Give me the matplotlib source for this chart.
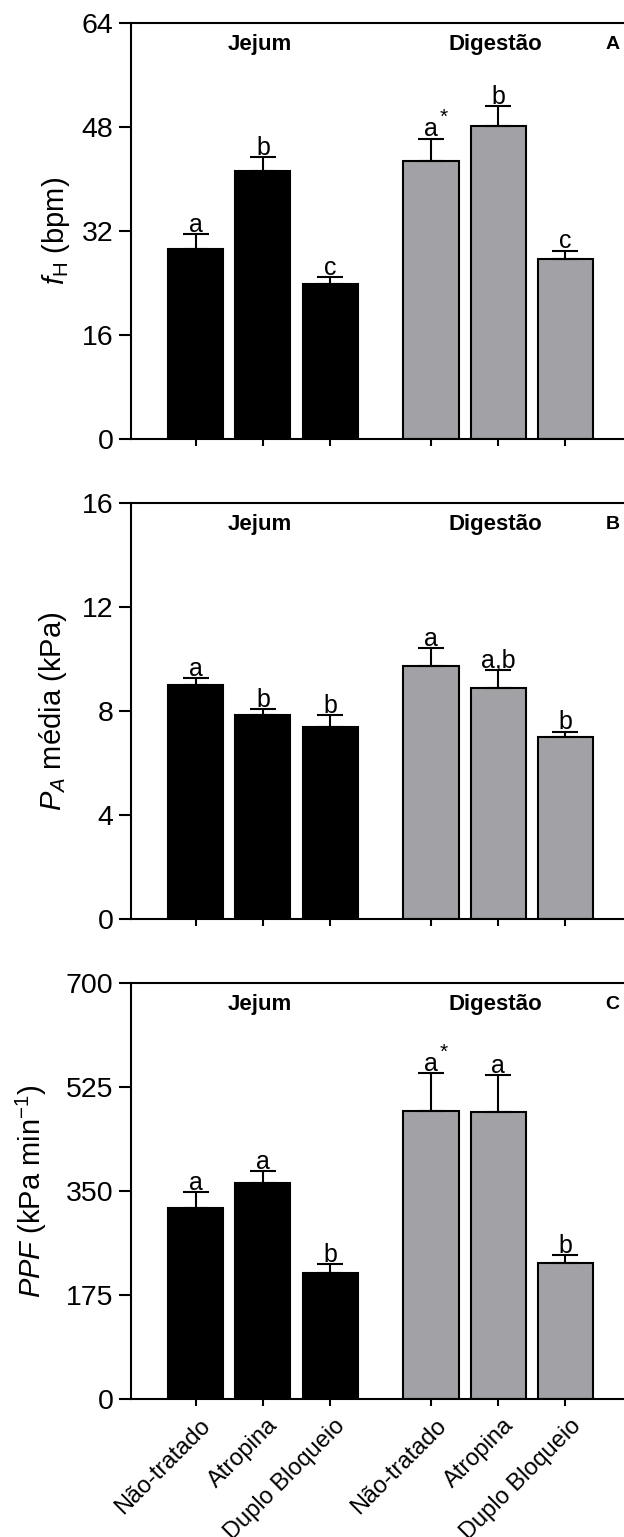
import matplotlib
matplotlib.use('Agg')
import matplotlib.pyplot as plt
import matplotlib.transforms as mtransforms
import numpy as np

plt.rcParams['font.family'] = ['Liberation Sans', 'DejaVu Sans']
plt.rcParams['mathtext.fontset'] = 'custom'
plt.rcParams['mathtext.rm'] = 'Liberation Sans'
plt.rcParams['mathtext.it'] = 'Liberation Sans:italic'

groups = ['Jejum', 'Digestão']
treatments = ['Não-tratado', 'Atropina', 'Duplo Bloqueio']
xpos = [0, 1, 2, 3.5, 4.5, 5.5]

# painel A - frequencia cardiaca
fh_mean = [29.2, 41.2, 23.8, 42.8, 48.1, 27.75]
fh_sem = [2.4, 2.2, 1.1, 3.4, 3.1, 1.25]
fh_letters = ['a', 'b', 'c', 'a*', 'b', 'c']

# painel B - pressao arterial media
pa_mean = [8.98, 7.83, 7.39, 9.72, 8.89, 7.01]
pa_sem = [0.29, 0.25, 0.45, 0.71, 0.70, 0.20]
pa_letters = ['a', 'b', 'b', 'a', 'a,b', 'b']

# painel C - PPF
ppf_mean = [321, 363, 212, 485, 483, 229]
ppf_sem = [27, 20, 15, 63, 62, 14]
ppf_letters = ['a', 'a', 'b', 'a*', 'a', 'b']

colors = ['black'] * 3 + ['#a2a2a6'] * 3

panels = [
    (fh_mean, fh_sem, fh_letters, [0, 16, 32, 48, 64], r'$\mathit{f}_{\mathrm{H}}$ (bpm)', 'A', 0.98523, -0.12),
    (pa_mean, pa_sem, pa_letters, [0, 4, 8, 12, 16], r'$\mathit{P}_{\mathit{A}}$ média (kPa)', 'B', 0.67294, -0.125),
    (ppf_mean, ppf_sem, ppf_letters, [0, 175, 350, 525, 700], r'$\mathit{PPF}$ (kPa min$^{-1}$)', 'C', 0.36064, -0.165),
]

fig = plt.figure(figsize=(6.24, 15.37), dpi=100)
left = 130.7 / 624
h = 416.6 / 1537

for i, (mean, sem, letters, yt, ylab, tag, top, labx) in enumerate(panels):
    ax = fig.add_axes([left, top - h, 1 - left, h])
    ax.bar(xpos, mean, width=0.82, color=colors, edgecolor='black', linewidth=1.5, zorder=2)
    ax.errorbar(xpos, mean, yerr=[np.zeros(6), sem], fmt='none', ecolor='black',
                elinewidth=1.5, capsize=9.5, capthick=1.5, zorder=3)
    for x, m, s, lab in zip(xpos, mean, sem, letters):
        base = lab.replace('*', '')
        ax.annotate(base, (x, m + s), xytext=(0, 1.5), textcoords='offset points',
                    ha='center', va='baseline', fontsize=18)
        if '*' in lab:
            ax.annotate('*', (x, m + s), xytext=(9, 11), textcoords='offset points',
                        ha='center', va='baseline', fontsize=15)
    ax.set_xlim(-0.966, 6.37)
    ax.set_ylim(yt[0], yt[-1])
    ax.set_yticks(yt)
    ax.set_xticks(xpos)
    ax.spines['right'].set_visible(False)
    for sp in ['left', 'bottom', 'top']:
        ax.spines[sp].set_linewidth(1.5)
    ax.tick_params(axis='y', length=9, width=1.5, labelsize=20.5, pad=3.5)
    ax.tick_params(axis='x', length=5, width=1.5, labelsize=17, pad=6)
    ax.set_ylabel(ylab, fontsize=21)
    ax.yaxis.set_label_coords(labx, 0.5)

    trans = mtransforms.blended_transform_factory(ax.transData, ax.transAxes)
    ax.text(0.95, 0.9465, groups[0], transform=trans, ha='center', va='center',
            fontsize=16, fontweight='bold')
    ax.text(4.45, 0.9465, groups[1], transform=trans, ha='center', va='center',
            fontsize=16, fontweight='bold')
    ax.text(6.2, 0.9465, tag, transform=trans, ha='center', va='center',
            fontsize=14, fontweight='bold')

    if i == 2:
        ax.set_xticklabels(treatments * 2, rotation=45, ha='right', va='top',
                           rotation_mode='anchor')
        off = mtransforms.ScaledTranslation(4 / 100, 0, fig.dpi_scale_trans)
        for t in ax.get_xticklabels():
            t.set_transform(t.get_transform() + off)
    else:
        ax.set_xticklabels([])

fig.savefig('out.png', dpi=100)
